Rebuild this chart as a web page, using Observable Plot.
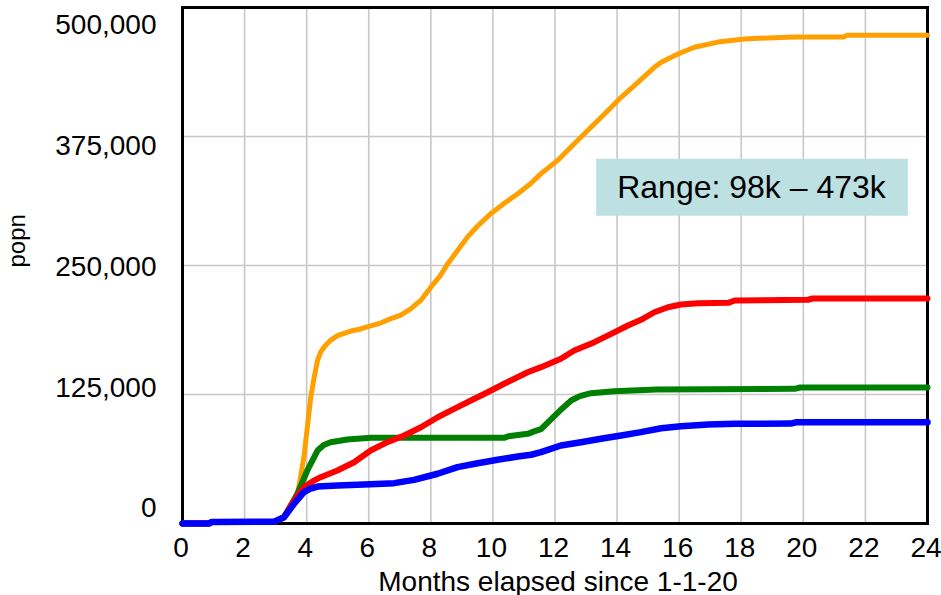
<!DOCTYPE html>
<html>
<head>
<meta charset="utf-8">
<script src="https://cdn.jsdelivr.net/npm/d3@7"></script>
<script src="https://cdn.jsdelivr.net/npm/@observablehq/plot@0.6"></script>
<style>
  html, body { margin: 0; padding: 0; background: #fff; }
</style>
</head>
<body>
<div id="chart"></div>
<script>
// Cumulative population over time, four scenarios (months since 1-1-20)
const orangeMonths = [0, 0.85, 0.95, 2.95, 3.3, 3.58, 3.7, 3.91, 4.02, 4.13, 4.25, 4.35, 4.45, 4.56, 4.77, 4.99, 5.42, 5.74, 6.06, 6.4, 6.71, 7.03, 7.35, 7.7, 8.0, 8.3, 8.54, 8.8, 9.18, 9.5, 9.94, 10.4, 10.8, 11.2, 11.55, 12.09, 12.62, 13.16, 13.7, 14.13, 14.67, 15.2, 15.42, 15.96, 16.49, 17.25, 18.1, 18.86, 19.72, 21.3, 21.4, 24];
const orangeValues = [0, 0, 1500, 1500, 7000, 19400, 27000, 64000, 93000, 122000, 143000, 158000, 166000, 171000, 177500, 182000, 186500, 188500, 191500, 194500, 198500, 202000, 208000, 217000, 229000, 240000, 251500, 262000, 277500, 288000, 300500, 311000, 319500, 329000, 339000, 352000, 368000, 384000, 400000, 413000, 427500, 442000, 447000, 455000, 461500, 466500, 469500, 470500, 471400, 471400, 473000, 473000];

const redMonths = [0, 0.85, 0.95, 2.95, 3.27, 3.48, 3.7, 3.91, 4.2, 4.45, 4.99, 5.53, 6.06, 6.6, 7.14, 7.68, 8.22, 8.75, 9.29, 9.83, 10.36, 11.12, 11.55, 12.19, 12.62, 13.27, 13.81, 14.35, 14.77, 15.2, 15.64, 16.06, 16.6, 17.6, 17.79, 20.15, 20.3, 24];
const redValues = [0, 0, 1500, 1500, 6000, 17000, 27000, 35200, 41000, 44900, 51400, 59400, 70700, 78800, 85300, 93300, 103000, 111100, 119200, 127200, 135400, 146600, 151500, 159600, 167600, 175700, 183800, 191900, 197400, 204700, 209600, 212200, 213500, 214000, 216100, 216800, 218000, 218000];

const greenMonths = [0, 0.85, 0.95, 2.95, 3.27, 3.5, 3.7, 4.02, 4.2, 4.35, 4.55, 4.77, 5.31, 6.06, 10.36, 10.5, 11.12, 11.35, 11.55, 11.87, 12.25, 12.52, 12.8, 13.16, 13.91, 15.28, 19.72, 19.9, 24];
const greenValues = [0, 0, 1500, 1500, 6000, 18000, 28800, 51400, 62000, 70700, 76000, 78800, 81400, 83000, 83000, 84500, 86900, 89500, 91500, 101000, 112000, 119200, 123500, 126300, 128200, 129900, 130500, 131800, 131800];

const blueMonths = [0, 0.85, 0.95, 2.95, 3.27, 3.59, 3.91, 4.1, 4.35, 4.99, 5.85, 6.82, 7.46, 8.22, 8.86, 9.51, 10.15, 10.8, 11.23, 11.55, 12.19, 12.84, 13.48, 14.13, 14.77, 15.42, 16.06, 16.93, 17.79, 19.6, 19.75, 24];
const blueValues = [0, 0, 1500, 1800, 6100, 19000, 30300, 33500, 35800, 36800, 37800, 39100, 42300, 48200, 54600, 58400, 61700, 64900, 66600, 69100, 75600, 78800, 82100, 85300, 88500, 92300, 94300, 95900, 96600, 96800, 98000, 98000];

const xTicks = [0, 2, 4, 6, 8, 10, 12, 14, 16, 18, 20, 22, 24];
const yTicks = [0, 125000, 250000, 375000, 500000];
const xLabel = "Months elapsed since 1-1-20";
const yLabel = "popn";

// drawing order: first listed sits underneath
const series = [
  {months: orangeMonths, values: orangeValues, color: "#ffa000", width: 5},
  {months: greenMonths, values: greenValues, color: "#008000", width: 6},
  {months: redMonths, values: redValues, color: "#ff0000", width: 6},
  {months: blueMonths, values: blueValues, color: "#0000ff", width: 6.5}
];

const finals = series.map(s => s.values[s.values.length - 1]);
const rangeNote = `Range: ${Math.round(d3.min(finals) / 1000)}k \u2013 ${Math.round(d3.max(finals) / 1000)}k`;

const yMax = 500000;
const fmt = d3.format(",");
// tick labels sit on a band slightly narrower than the gridlines
const labelDy = v => -15 + 33 * v / yMax;

const font = "'Liberation Sans', Arial, sans-serif";

const chart = Plot.plot({
  width: 941,
  height: 595,
  marginLeft: 182,
  marginRight: 14,
  marginTop: 7,
  marginBottom: 72,
  style: {fontFamily: font, fontSize: "28px", color: "#000", background: "#fff", overflow: "visible"},
  x: {domain: [0, 24]},
  y: {domain: [0, yMax]},
  marks: [
    Plot.gridX(xTicks, {stroke: "#c8c8c8", strokeOpacity: 1, strokeWidth: 1.6}),
    Plot.gridY(yTicks, {stroke: "#c8c8c8", strokeOpacity: 1, strokeWidth: 1.6}),
    Plot.frame({stroke: "#000", strokeWidth: 3}),
    Plot.axisX(xTicks, {tickSize: 0, tickPadding: 14, label: null, dx: -1.5, tickFormat: d => String(d)}),
    ...yTicks.map(v => Plot.axisY([v], {tickSize: 0, tickPadding: 26, label: null, tickFormat: fmt, dy: labelDy(v)})),
    ...series.map(s => Plot.line(s.months.map((m, i) => ({m, v: s.values[i]})), {
      x: "m", y: "v", stroke: s.color, strokeWidth: s.width, strokeLinejoin: "round"
    })),
    Plot.text([xLabel], {text: d => d, frameAnchor: "bottom", lineAnchor: "bottom", dx: 3, dy: 67}),
    Plot.text([yLabel], {text: d => d, frameAnchor: "left", rotate: -90, lineAnchor: "bottom", dx: -158, dy: 2, fontSize: 24}),
    Plot.text([rangeNote], {text: d => d, frameAnchor: "top-right", textAnchor: "middle", lineAnchor: "middle", dx: -176, dy: 180, fontSize: 32})
  ]
});

document.getElementById("chart").append(chart);

// shaded box behind the range note
const note = Array.from(chart.querySelectorAll("text")).find(t => t.textContent === rangeNote);
if (note) {
  const bb = note.getBBox();
  const cy = bb.y + bb.height / 2;
  const rect = document.createElementNS("http://www.w3.org/2000/svg", "rect");
  rect.setAttribute("x", bb.x - 21);
  rect.setAttribute("y", cy - 28);
  rect.setAttribute("width", bb.width + 42);
  rect.setAttribute("height", 57);
  rect.setAttribute("fill", "#bde0e3");
  // the text is positioned by its own transform; give the box the same one
  const tf = note.getAttribute("transform");
  if (tf) rect.setAttribute("transform", tf);
  note.parentNode.insertBefore(rect, note);
}
</script>
</body>
</html>
